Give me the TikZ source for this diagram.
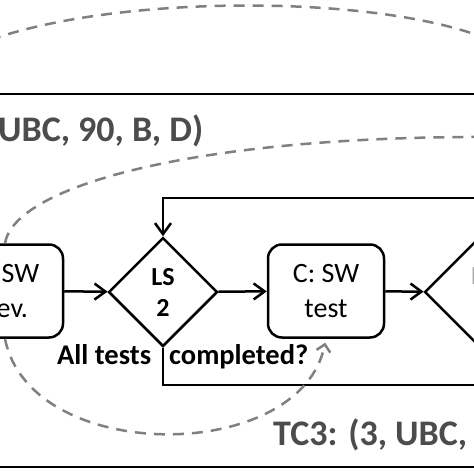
\documentclass[tikz,border=0pt]{standalone}
\usepackage{fontspec}
\setmainfont{Carlito}
\usetikzlibrary{shapes.geometric,arrows.meta}

\tikzset{boite/.style = {draw, rounded corners=14pt, line width=2.5pt,
                         minimum width=116pt, minimum height=93pt, inner sep=0pt,
                         align=center, font=\fontsize{28}{35}\selectfont},
         losange/.style = {draw, diamond, line width=2.5pt, minimum size=109pt, inner sep=0pt,
                           align=center, font=\bfseries\fontsize{26}{31}\selectfont},
         lien/.style = {line width=2.5pt, -{Straight Barb[length=11pt,width=16pt]}},
         trait/.style = {line width=2.5pt},
         pointille/.style = {line width=2.5pt, black!50, dash pattern=on 11pt off 8pt},
         titre/.style = {font=\bfseries\fontsize{36}{40}\selectfont, text=black!70, inner sep=0pt}
        }

\begin{document}
\begin{tikzpicture}[x=1pt, y=-1pt]
\useasboundingbox (0,0) rectangle (474,474);
\clip (0,0) rectangle (474,474);

% separations
\coordinate (hautG) at (-10,94);
\coordinate (hautD) at (490,94);
\coordinate (basG) at (-10,467);
\coordinate (basD) at (490,467);
\draw[trait] (hautG) -- (hautD);
\draw[trait] (basG) -- (basD);

% titres
\node[titre, anchor=base west] (tc2) at (-2,141) {UBC, 90, B, D)};
\node[titre, anchor=base west] (tc3) at (273,445) {TC3: (3, UBC,};

% etapes
\node[boite] (dev) at (5,291) {D: SW\\dev.};
\node[losange] (ls2) at (163,292) {LS\\2};
\node[boite] (test) at (326,291) {C: SW\\test};
\node[losange, text=black!35] (ls3) at (479,292) {\hspace*{8pt}LS\\\hspace*{8pt}3};
\node[font=\bfseries\fontsize{28.5}{30}\selectfont, anchor=base west, inner sep=0pt] (question)
     at (57,364) {All tests\hspace{18pt}completed?};

\draw[lien] (dev) -- (ls2);
\draw[lien] (ls2) -- (test);
\draw[lien] (test) -- (ls3);

% boucle
\coordinate (retourH) at (490,198);
\coordinate (retourB) at (490,385);
\draw[lien] (retourH) -| (ls2.north);
\draw[trait] (ls2.south) |- (retourB);

% liens en pointilles
\coordinate (arcG) at (-10,40);
\coordinate (arcD) at (490,40);
\coordinate (courbeD) at (500,137);
\draw[pointille] (arcG) .. controls (120,-6) and (380,-6) .. (arcD);
\draw[pointille] (dev.north) .. controls (15,185) and (200,135) .. (courbeD);
\draw[pointille, -{Straight Barb[length=7pt,width=14pt]}, shorten >=4pt]
     (dev.south) .. controls (30,465) and (300,465) .. (test.south);
\end{tikzpicture}
\end{document}
